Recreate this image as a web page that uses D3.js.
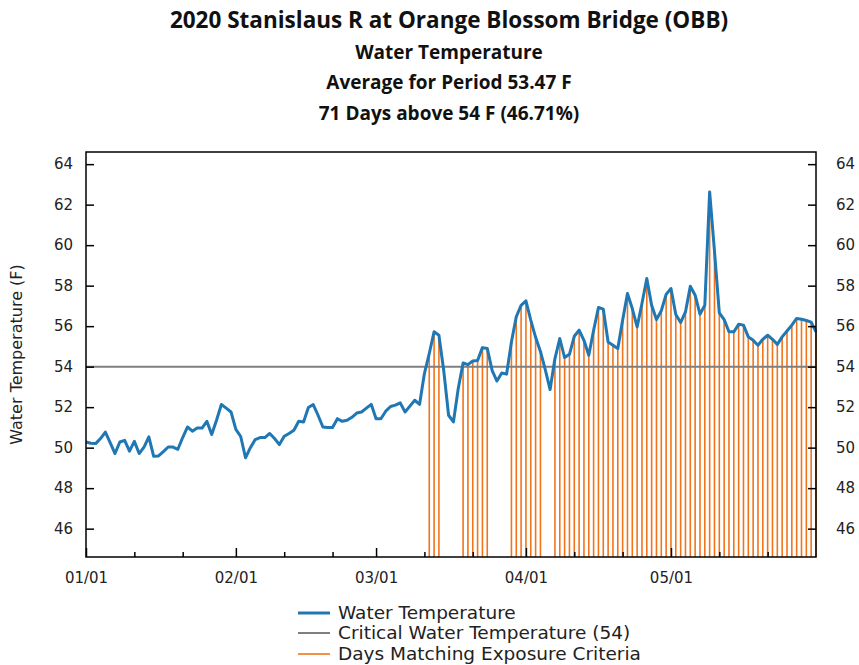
<!DOCTYPE html>
<html>
<head>
<meta charset="utf-8">
<script src="https://cdn.jsdelivr.net/npm/d3@7"></script>
<style>
body { margin: 0; background: #fff; }
text { font-family: "DejaVu Sans", sans-serif; fill: #222; }
.title { font-family: "Open Sans", sans-serif; font-weight: bold; fill: #111; }
</style>
</head>
<body>
<script>
width = 859
height = 665

// daily mean water temperature (F), one array per month
janTemps = [50.28, 50.22, 50.2, 50.45, 50.77, 50.25, 49.71, 50.28, 50.36, 49.83,
    50.31, 49.71, 50.03, 50.53, 49.57, 49.59, 49.8, 50.03, 50.03, 49.92,
    50.5, 51.02, 50.81, 50.97, 50.97, 51.3, 50.65, 51.35, 52.13, 51.95, 51.76]
febTemps = [50.9, 50.55, 49.5, 50.0, 50.4, 50.5, 50.5, 50.7, 50.45, 50.15,
    50.56, 50.7, 50.86, 51.3, 51.27, 51.98, 52.13, 51.6, 51.02, 51.0,
    51.0, 51.43, 51.3, 51.35, 51.5, 51.71, 51.76, 51.95, 52.14]
marTemps = [51.43, 51.43, 51.8, 52.03, 52.1, 52.21, 51.76, 52.05, 52.34, 52.14,
    53.66, 54.65, 55.72, 55.55, 53.8, 51.6, 51.27, 52.92, 54.18, 54.1,
    54.28, 54.3, 54.94, 54.9, 53.82, 53.29, 53.69, 53.63, 55.22, 56.46, 57.03]
aprTemps = [57.25, 56.3, 55.45, 54.75, 53.85, 52.87, 54.4, 55.39, 54.45, 54.61,
    55.5, 55.8, 55.3, 54.56, 55.8, 56.92, 56.84, 55.22, 55.06, 54.89,
    56.29, 57.61, 56.87, 55.96, 57.12, 58.35, 57.03, 56.33, 56.76, 57.57]
mayTemps = [57.86, 56.58, 56.18, 56.7, 57.97, 57.53, 56.59, 57.03, 62.63, 59.7,
    56.65, 56.32, 55.72, 55.72, 56.09, 56.05, 55.47, 55.3, 55.06, 55.35,
    55.55, 55.35, 55.1, 55.47, 55.76, 56.05, 56.38, 56.34, 56.28, 56.2, 55.72]

criticalTemp = 54
startDate = "2020-01-01"
endDate = "2020-05-31"

titleLines = ["2020 Stanislaus R at Orange Blossom Bridge (OBB)",
    "Water Temperature",
    "Average for Period 53.47 F",
    "71 Days above 54 F (46.71%)"]

yTicks = [46, 48, 50, 52, 54, 56, 58, 60, 62, 64]
xMajorTicks = ["01/01", "02/01", "03/01", "04/01", "05/01"]
xMinorTicks = ["01/11", "01/21", "02/11", "02/21", "03/11", "03/21",
    "04/11", "04/21", "05/11", "05/21"]

legendLabels = ["Water Temperature", "Critical Water Temperature (54)", "Days Matching Exposure Criteria"]
colors = ["#1f77b4", "#7f7f7f", "#f2741a"]

parseDay = d3.timeParse("%Y-%m-%d")
parseTick = function(s) { return d3.timeParse("%Y/%m/%d")("2020/" + s) }

temps = janTemps.concat(febTemps, marTemps, aprTemps, mayTemps)
data = temps.map(function(t, i) {
    return {date: d3.timeDay.offset(parseDay(startDate), i), temp: t}
})

plotLeft = 86
plotRight = 816
plotTop = 152
plotBottom = 557

x = d3.scaleTime()
    .domain([parseDay(startDate), parseDay(endDate)])
    .range([plotLeft, plotRight])
y = d3.scaleLinear()
    .domain([44.6, 64.6])
    .range([plotBottom, plotTop])

svg = d3.select("body")
    .append("svg")
    .attr("width", width)
    .attr("height", height)

// titles
titleY = [28, 59, 89, 120]
svg.selectAll("text.title")
    .data(titleLines)
    .enter()
    .append("text")
    .attr("class", "title")
    .attr("x", 449)
    .attr("y", function(d, i) { return titleY[i] })
    .attr("text-anchor", "middle")
    .attr("font-size", function(d, i) { return i == 0 ? 22.5 : 19 })
    .text(function(d) { return d })

// exposure bars: days above the critical temperature
svg.append("g")
    .selectAll("line")
    .data(data.filter(function(d) { return d.temp > criticalTemp }))
    .enter()
    .append("line")
    .attr("x1", function(d) { return x(d.date) })
    .attr("x2", function(d) { return x(d.date) })
    .attr("y1", y(44.6))
    .attr("y2", function(d) { return y(d.temp) })
    .attr("stroke", colors[2])
    .attr("stroke-width", 1.6)

// critical temperature line
svg.append("line")
    .attr("x1", plotLeft)
    .attr("x2", plotRight)
    .attr("y1", y(criticalTemp))
    .attr("y2", y(criticalTemp))
    .attr("stroke", colors[1])
    .attr("stroke-width", 2)

// water temperature
line = d3.line()
    .x(function(d) { return x(d.date) })
    .y(function(d) { return y(d.temp) })
svg.append("path")
    .datum(data)
    .attr("d", line)
    .attr("fill", "none")
    .attr("stroke", colors[0])
    .attr("stroke-width", 3)
    .attr("stroke-linejoin", "round")

// axes, ticks pointing inward
function styleAxis(g) {
    g.select(".domain").remove()
    g.selectAll(".tick line").attr("stroke", "#000").attr("stroke-width", 1.5)
    g.selectAll(".tick text").attr("fill", "#222").attr("font-family", "DejaVu Sans")
}

svg.append("g")
    .attr("transform", "translate(" + plotLeft + ",0)")
    .call(d3.axisLeft(y).tickValues(yTicks).tickSizeInner(-8).tickSizeOuter(0).tickPadding(13))
    .attr("font-size", 15)
    .call(styleAxis)
svg.append("g")
    .attr("transform", "translate(" + plotRight + ",0)")
    .call(d3.axisRight(y).tickValues(yTicks).tickSizeInner(-8).tickSizeOuter(0).tickPadding(20))
    .attr("font-size", 15)
    .call(styleAxis)
svg.append("g")
    .attr("transform", "translate(0," + plotBottom + ")")
    .call(d3.axisBottom(x).tickValues(xMajorTicks.map(parseTick))
        .tickFormat(d3.timeFormat("%m/%d")).tickSizeInner(-9).tickSizeOuter(0).tickPadding(15))
    .attr("font-size", 15)
    .call(styleAxis)
svg.append("g")
    .attr("transform", "translate(0," + plotBottom + ")")
    .call(d3.axisBottom(x).tickValues(xMinorTicks.map(parseTick))
        .tickFormat("").tickSizeInner(-5).tickSizeOuter(0))
    .call(styleAxis)

// frame
svg.append("rect")
    .attr("x", plotLeft)
    .attr("y", plotTop)
    .attr("width", plotRight - plotLeft)
    .attr("height", plotBottom - plotTop)
    .attr("fill", "none")
    .attr("stroke", "#000")
    .attr("stroke-width", 1.5)

// y axis title
svg.append("text")
    .attr("transform", "translate(22," + ((plotTop + plotBottom) / 2) + ") rotate(-90)")
    .attr("text-anchor", "middle")
    .attr("font-size", 16)
    .text("Water Temperature (F)")

// legend
legendY = [613, 633, 654]
legend = svg.selectAll("g.legend")
    .data(legendLabels)
    .enter()
    .append("g")
    .attr("class", "legend")
    .attr("transform", function(d, i) { return "translate(298," + legendY[i] + ")" })
legend.append("line")
    .attr("x1", 0)
    .attr("x2", 32)
    .attr("stroke", function(d, i) { return colors[i] })
    .attr("stroke-width", function(d, i) { return i == 2 ? 1.6 : (i == 0 ? 3 : 2) })
legend.append("text")
    .attr("x", 40)
    .attr("dy", "0.35em")
    .attr("font-size", 18.5)
    .text(function(d) { return d })
</script>
</body>
</html>
